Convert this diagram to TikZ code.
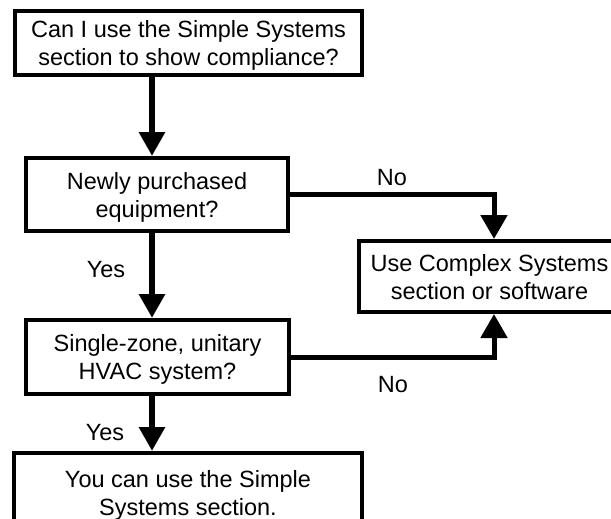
\documentclass[tikz,border=0pt]{standalone}
\usepackage{fontspec}
\setmainfont{Liberation Sans}
\usetikzlibrary{arrows.meta,calc}
\begin{document}
\begin{tikzpicture}[x=1pt,y=-1pt,
  box/.style={draw,line width=4pt,rectangle,inner sep=0pt,align=center,
    font=\fontsize{23.5pt}{28pt}\selectfont},
  lbl/.style={inner sep=0pt,font=\fontsize{23.5pt}{28pt}\selectfont},
  mainarr/.style={line width=6pt,-{Triangle[length=24pt,width=25pt]}},
  sidearr/.style={line width=5pt,line join=miter,-{Triangle[length=24pt,width=26pt]}}]
\useasboundingbox (0,0) rectangle (611,519);
\clip (0,0) rectangle (611,519);
\fill[white] (0,0) rectangle (611,519);
\node[box,minimum width=347pt,minimum height=64pt,text depth=-2pt] (b1) at (188.5,43)
  {Can I use the Simple Systems\\section to show compliance?};
\node[box,minimum width=262pt,minimum height=73pt,text depth=-3pt] (b2) at (157,194.5)
  {Newly purchased\\equipment?};
\node[box,minimum width=263pt,minimum height=74pt,text depth=-2pt] (b4) at (157.5,357)
  {Single-zone, unitary\\HVAC system?};
\node[box,minimum width=348pt,minimum height=80pt,text depth=-1pt] (b5) at (188,493)
  {You can use the Simple\\Systems section.};
\node[box,minimum width=261pt,minimum height=71pt,text depth=-7pt] (b3) at (489.5,276.5)
  {Use Complex Systems\\section or software};
\coordinate (colL) at (152,0);
\coordinate (colR) at (494,0);
\draw[mainarr] (b1.south -| colL) -- (b2.north -| colL);
\draw[mainarr] (b2.south -| colL) -- (b4.north -| colL);
\draw[mainarr] (b4.south -| colL) -- (b5.north -| colL);
\draw[sidearr] (b2.east) -| (b3.north -| colR);
\draw[sidearr] (b4.east) -| (b3.south -| colR);
\node[lbl] (no1) at (392,178) {No};
\node[lbl] (yes1) at (106,270) {Yes};
\node[lbl] (no2) at (393,385) {No};
\node[lbl] (yes2) at (105,433) {Yes};
\end{tikzpicture}
\end{document}
